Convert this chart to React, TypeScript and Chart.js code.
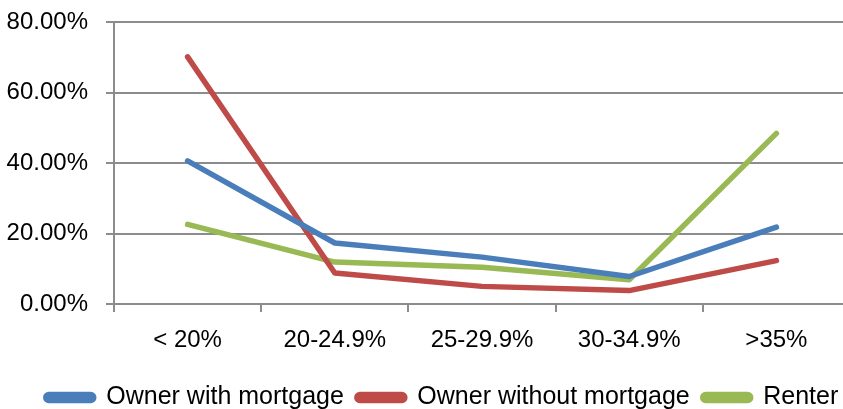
import React, { useEffect, useRef } from "react";
import { Chart, registerables } from "chart.js";

Chart.register(...registerables);

const categories = ["< 20%", "20-24.9%", "25-29.9%", "30-34.9%", ">35%"];
const ownerWithMortgage = [40.6, 17.3, 13.3, 7.8, 21.8];
const ownerWithoutMortgage = [70.1, 8.8, 5.0, 3.8, 12.3];
const renter = [22.6, 11.9, 10.4, 6.9, 48.4];
const yTicks = [0, 20, 40, 60, 80];

const FONT = "'Liberation Sans', Arial, sans-serif";
const GRID = "#8c8c8c";

const shiftLegend = {
  id: "shiftLegend",
  afterLayout(chart: any) {
    const lg = chart.legend;
    if (lg) {
      lg.left += 17;
      lg.right += 17;
    }
  },
};

export default function App() {
  const ref = useRef<HTMLCanvasElement | null>(null);

  useEffect(() => {
    document.body.style.margin = "0";
    document.body.style.overflow = "hidden";
    const canvas = ref.current;
    if (!canvas) return;
    const mk = (label: string, data: number[], color: string) => ({
      label,
      data,
      borderColor: color,
      backgroundColor: color,
      borderWidth: 5.5,
      pointRadius: 0,
      pointHoverRadius: 0,
      tension: 0,
      borderCapStyle: "round" as const,
      borderJoinStyle: "round" as const,
      fill: false,
    });
    const chart = new Chart(canvas, {
      type: "line",
      data: {
        labels: categories,
        datasets: [
          mk("Owner with mortgage", ownerWithMortgage, "#4a7ebb"),
          mk("Owner without mortgage", ownerWithoutMortgage, "#be4b48"),
          mk("Renter", renter, "#98b954"),
        ],
      },
      plugins: [shiftLegend],
      options: {
        responsive: false,
        animation: false,
        devicePixelRatio: 1,
        layout: { padding: { top: 22, right: 2, left: 0, bottom: 0 } },
        font: { family: FONT, size: 24 },
        plugins: {
          tooltip: { enabled: false },
          legend: {
            position: "bottom",
            labels: {
              font: { family: FONT, size: 25 },
              color: "#000",
              boxWidth: 48,
              boxHeight: 6,
              padding: 13,
              useBorderRadius: true,
              borderRadius: 3,
            },
          },
        },
        scales: {
          x: {
            offset: true,
            grid: {
              display: true,
              offset: true,
              drawOnChartArea: false,
              drawTicks: true,
              tickLength: 8,
              color: GRID,
              lineWidth: 2,
            },
            border: { display: true, color: GRID, width: 2 },
            ticks: {
              font: { family: FONT, size: 24 },
              color: "#000",
              padding: 14,
              maxRotation: 0,
              autoSkip: false,
            },
            afterFit: (s: any) => {
              s.height = 68;
              s.paddingLeft = 0;
              s.paddingRight = 0;
            },
          },
          y: {
            min: 0,
            max: 80,
            afterBuildTicks: (s: any) => {
              s.ticks = yTicks.map((v) => ({ value: v }));
            },
            grid: {
              color: GRID,
              lineWidth: 2,
              tickLength: 8,
            },
            border: { display: true, color: GRID, width: 2 },
            ticks: {
              font: { family: FONT, size: 24 },
              color: "#000",
              padding: 18,
              callback: (v: any) => Number(v).toFixed(2) + "%",
            },
            afterFit: (s: any) => {
              s.width = 114;
              s.paddingTop = 0;
              s.paddingBottom = 0;
            },
          },
        },
      },
    });
    return () => chart.destroy();
  }, []);

  return (
    <div
      style={{
        position: "fixed",
        left: 0,
        top: 0,
        width: 843,
        height: 409,
        overflow: "hidden",
        background: "#fff",
      }}
    >
      <canvas ref={ref} width={852} height={420} style={{ display: "block" }} />
    </div>
  );
}
